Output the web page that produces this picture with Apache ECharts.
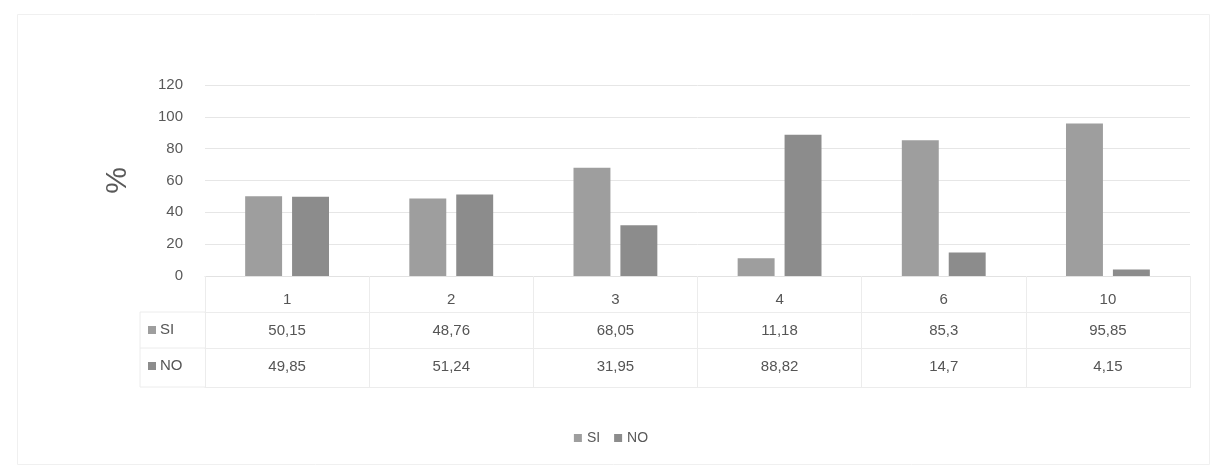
<!DOCTYPE html>
<html>
<head>
<meta charset="utf-8">
<script src="https://cdn.jsdelivr.net/npm/echarts@6/dist/echarts.min.js"></script>
<style>html,body{margin:0;padding:0;background:#fff}#c{width:1222px;height:470px}</style>
</head>
<body>
<div id="c"></div>
<script>
const categories = ['1', '2', '3', '4', '6', '10'];
const siValues = [50.15, 48.76, 68.05, 11.18, 85.3, 95.85];
const noValues = [49.85, 51.24, 31.95, 88.82, 14.7, 4.15];
const seriesNames = ['SI', 'NO'];
const yTicks = { min: 0, max: 120, interval: 20 };

const FONT = 'Liberation Sans';
const fmt = v => String(v).replace('.', ',');
const siColor = '#9e9e9e', noColor = '#8c8c8c';

const chart = echarts.init(document.getElementById('c'));
const tableAxis = (vals, offset) => ({
  type: 'category', data: vals.map(fmt), gridIndex: 0, position: 'bottom', offset: offset,
  axisLine: { show: true, lineStyle: { color: '#ececec' } },
  axisTick: { show: false },
  axisLabel: { color: '#555', fontSize: 15, fontFamily: FONT, margin: 11, interval: 0 },
  splitLine: { show: false }
});
chart.setOption({
  animation: false,
  backgroundColor: '#fff',
  textStyle: { fontFamily: FONT },
  grid: { left: 205, right: 32, top: 85, bottom: 194, containLabel: false },
  legend: {
    data: seriesNames, bottom: 20, left: 'center', itemWidth: 8, itemHeight: 8, itemGap: 14,
    icon: 'rect', textStyle: { color: '#595959', fontSize: 14, fontFamily: FONT }
  },
  xAxis: [
    {
      type: 'category', data: categories, position: 'bottom',
      axisLine: { show: true, lineStyle: { color: '#e2e2e2' } },
      axisTick: { show: true, alignWithLabel: false, length: 112, lineStyle: { color: '#ececec' } },
      axisLabel: { color: '#555', fontSize: 15, fontFamily: FONT, margin: 16 }
    },
    tableAxis(siValues, 36),
    tableAxis(noValues, 72),
    { type: 'category', data: categories, position: 'bottom', offset: 111, axisLine: { show: true, lineStyle: { color: '#ececec' } }, axisTick: { show: false }, axisLabel: { show: false } }
  ],
  yAxis: {
    type: 'value', min: yTicks.min, max: yTicks.max, interval: yTicks.interval,
    name: '%', nameLocation: 'middle', nameGap: 72, nameRotate: 90,
    nameTextStyle: { fontSize: 30, color: '#595959', fontFamily: FONT },
    axisLine: { show: false }, axisTick: { show: false },
    axisLabel: { color: '#595959', fontSize: 15, fontFamily: FONT, margin: 22 },
    splitLine: { lineStyle: { color: '#e6e6e6' } }
  },
  series: [
    { name: seriesNames[0], type: 'bar', data: siValues, barWidth: '22.5%', barGap: '27%', itemStyle: { color: siColor } },
    { name: seriesNames[1], type: 'bar', data: noValues, barWidth: '22.5%', itemStyle: { color: noColor } }
  ],
  graphic: [
    { type: 'rect', left: 15, top: 12, shape: { width: 1192, height: 450 }, style: { fill: 'none', stroke: '#f0f0f0', lineWidth: 1 } },
    { type: 'rect', shape: { x: 148, y: 326, width: 8, height: 8 }, style: { fill: siColor } },
    { type: 'text', x: 160, y: 330, style: { text: seriesNames[0], fill: '#555', font: '15px ' + FONT, verticalAlign: 'middle' } },
    { type: 'rect', shape: { x: 148, y: 362, width: 8, height: 8 }, style: { fill: noColor } },
    { type: 'text', x: 160, y: 366, style: { text: seriesNames[1], fill: '#555', font: '15px ' + FONT, verticalAlign: 'middle' } },
    { type: 'line', shape: { x1: 140, y1: 312, x2: 205, y2: 312 }, style: { stroke: '#ececec' } },
    { type: 'line', shape: { x1: 140, y1: 348, x2: 205, y2: 348 }, style: { stroke: '#ececec' } },
    { type: 'line', shape: { x1: 140, y1: 387, x2: 205, y2: 387 }, style: { stroke: '#ececec' } },
    { type: 'line', shape: { x1: 140, y1: 312, x2: 140, y2: 387 }, style: { stroke: '#ececec' } }
  ]
});
</script>
</body>
</html>
